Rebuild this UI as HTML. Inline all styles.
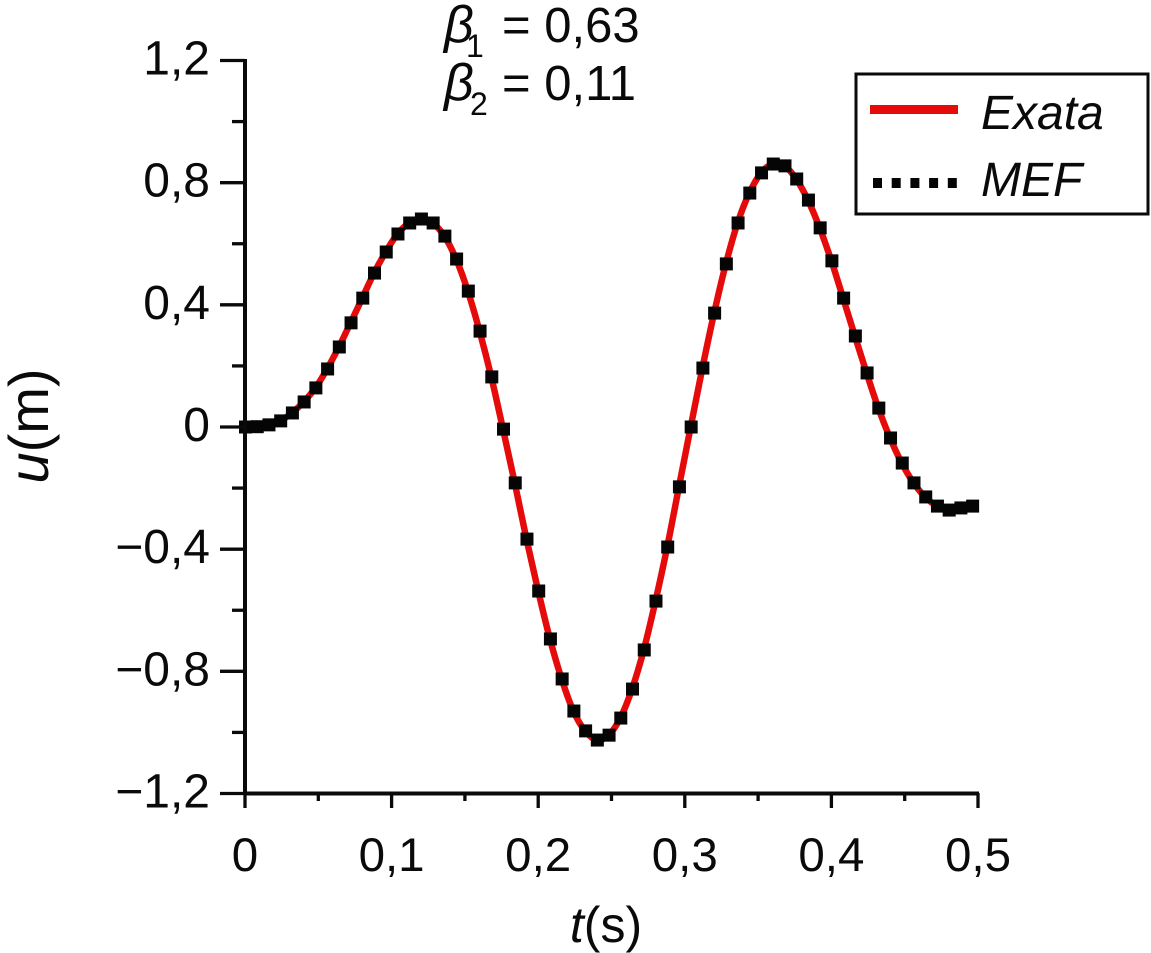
<!DOCTYPE html>
<html lang="pt">
<head>
<meta charset="utf-8">
<title>u(m) vs t(s)</title>
<style>
html,body{margin:0;padding:0;background:#fff;width:1151px;height:953px;overflow:hidden}
svg{display:block}
text{font-family:"Liberation Sans",sans-serif;fill:#0a0a0a}
</style>
</head>
<body>
<svg id="chart" width="1151" height="953" viewBox="0 0 1151 953" xmlns="http://www.w3.org/2000/svg">
  <g id="plot"></g>
  <g id="axes"></g>

  <text x="606" y="942" font-size="50" text-anchor="middle"><tspan font-style="italic">t</tspan>(s)</text>
  <text transform="translate(48,426) rotate(-90)" font-size="56" text-anchor="middle"><tspan font-style="italic">u</tspan>(m)</text>

  <g>
    <text y="42" font-size="49"><tspan x="444" font-size="52" font-style="italic">β</tspan><tspan x="466" y="57" font-size="32">1</tspan><tspan x="502" y="42">= 0,63</tspan></text>
    <text y="100" font-size="49"><tspan x="444" font-size="52" font-style="italic">β</tspan><tspan x="470" y="115" font-size="32">2</tspan><tspan x="502" y="100">= 0,11</tspan></text>
  </g>

  <g>
    <rect x="856" y="74" width="292" height="140" fill="#fff" stroke="#0a0a0a" stroke-width="3"></rect>
    <rect x="870" y="105" width="88" height="9" fill="#e60b0b"></rect>
    <text x="981" y="129" font-size="48" font-style="italic">Exata</text>
    <g id="legendDots"></g>
    <text x="981" y="196" font-size="48" font-style="italic">MEF</text>
  </g>
</svg>
<script>
const timeValues = [0,0.008,0.016,0.024,0.032,0.04,0.048,0.056,0.064,0.072,0.08,0.088,0.096,0.104,0.112,0.12,0.128,0.136,0.144,0.152,0.16,0.168,0.176,0.184,0.192,0.2,0.208,0.216,0.224,0.232,0.24,0.248,0.256,0.264,0.272,0.28,0.288,0.296,0.304,0.312,0.32,0.328,0.336,0.344,0.352,0.36,0.368,0.376,0.384,0.392,0.4,0.408,0.416,0.424,0.432,0.44,0.448,0.456,0.464,0.472,0.48,0.488,0.496];
const exataValues = [0,0.001,0.007,0.02,0.046,0.082,0.128,0.19,0.262,0.341,0.422,0.504,0.573,0.632,0.668,0.681,0.668,0.625,0.55,0.445,0.314,0.164,-0.007,-0.183,-0.367,-0.537,-0.694,-0.825,-0.93,-0.995,-1.025,-1.009,-0.953,-0.858,-0.73,-0.57,-0.393,-0.196,0,0.193,0.373,0.534,0.668,0.766,0.832,0.861,0.855,0.812,0.743,0.652,0.544,0.422,0.298,0.177,0.062,-0.036,-0.118,-0.183,-0.229,-0.259,-0.272,-0.265,-0.259];
const mefValues = [0,0.001,0.007,0.02,0.046,0.082,0.128,0.19,0.262,0.341,0.422,0.504,0.573,0.632,0.668,0.681,0.668,0.625,0.55,0.445,0.314,0.164,-0.007,-0.183,-0.367,-0.537,-0.694,-0.825,-0.93,-0.995,-1.025,-1.009,-0.953,-0.858,-0.73,-0.57,-0.393,-0.196,0,0.193,0.373,0.534,0.668,0.766,0.832,0.861,0.855,0.812,0.743,0.652,0.544,0.422,0.298,0.177,0.062,-0.036,-0.118,-0.183,-0.229,-0.259,-0.272,-0.265,-0.259];
const xTickValues = [0,0.1,0.2,0.3,0.4,0.5];
const xTickLabels = ["0","0,1","0,2","0,3","0,4","0,5"];
const xMinorTicks = [0.05,0.15,0.25,0.35,0.45];
const yTickValues = [1.2,0.8,0.4,0,-0.4,-0.8,-1.2];
const yTickLabels = ["1,2","0,8","0,4","0","−0,4","−0,8","−1,2"];
const yMinorTicks = [1,0.6,0.2,-0.2,-0.6,-1];
const legendDotCount = 5;

const NS = "http://www.w3.org/2000/svg";
const INK = "#0a0a0a";
function xScale(t){ return 245 + (t / 0.5) * 733; }
function yScale(u){ return 427 - (u / 2.4) * 733; }
function make(tag, parent, attrs){
  const el = document.createElementNS(NS, tag);
  Object.keys(attrs).forEach(function(k){ el.setAttribute(k, attrs[k]); });
  parent.appendChild(el);
  return el;
}
const axes = document.getElementById("axes");
const plot = document.getElementById("plot");

const yLine = make("line", axes, {x1:245,x2:245,y1:yScale(1.2)-1.5,y2:yScale(-1.2)+1,stroke:INK,"stroke-width":4});


const xLine = make("line", axes, {x1:245,x2:xScale(0.5)+1,y1:yScale(-1.2),y2:yScale(-1.2),stroke:INK,"stroke-width":4});



xTickValues.forEach(function(v, i){
  const tick = make("line", axes, {x1:xScale(v),x2:xScale(v),y1:793,y2:808,stroke:INK,"stroke-width":3.3});
  
  
  const label = make("text", axes, {x:xScale(v),y:871,"font-size":47.5,"text-anchor":"middle"});
  
  
  label.textContent = xTickLabels[i];
});
xMinorTicks.forEach(function(v){
  const tick = make("line", axes, {x1:xScale(v),x2:xScale(v),y1:793,y2:801,stroke:INK,"stroke-width":3.3});
  
  
});
yTickValues.forEach(function(v, i){
  const tick = make("line", axes, {x1:220,x2:245,y1:yScale(v),y2:yScale(v),stroke:INK,"stroke-width":3.3});
  
  
  const label = make("text", axes, {x:210,y:yScale(v)+14,"font-size":48,"text-anchor":"end"});
  
  
  label.textContent = yTickLabels[i];
});
yMinorTicks.forEach(function(v){
  const tick = make("line", axes, {x1:232,x2:245,y1:yScale(v),y2:yScale(v),stroke:INK,"stroke-width":3.3});
  
  
});

function smoothPath(xs, ys){
  const p = xs.map(function(x, i){ return [xScale(x), yScale(ys[i])]; });
  let d = "M" + p[0][0] + " " + p[0][1];
  for (let i = 0; i < p.length - 1; i++){
    const a = p[Math.max(i - 1, 0)], b = p[i], c = p[i + 1], e = p[Math.min(i + 2, p.length - 1)];
    d += " C" + (b[0] + (c[0] - a[0]) / 6) + " " + (b[1] + (c[1] - a[1]) / 6) + " " +
         (c[0] - (e[0] - b[0]) / 6) + " " + (c[1] - (e[1] - b[1]) / 6) + " " + c[0] + " " + c[1];
  }
  return d;
}
const exata = make("path", plot, {d:smoothPath(timeValues, exataValues),fill:"none",stroke:"#e60b0b","stroke-width":6.5,"stroke-linejoin":"round"});



mefValues.forEach(function(u, i){
  const size = 13;
  const m = make("rect", plot, {x:xScale(timeValues[i])-size/2+0.5,y:yScale(u)-size/2,width:size,height:size,fill:"#050505"});
  
  
});

const legendDots = document.getElementById("legendDots");
for (let i = 0; i < legendDotCount; i++){
  const dot = make("rect", legendDots, {x:873 + i * 18.7,y:178,width:9,height:10,fill:"#050505"});
  
  
}
</script>
</body>
</html>
